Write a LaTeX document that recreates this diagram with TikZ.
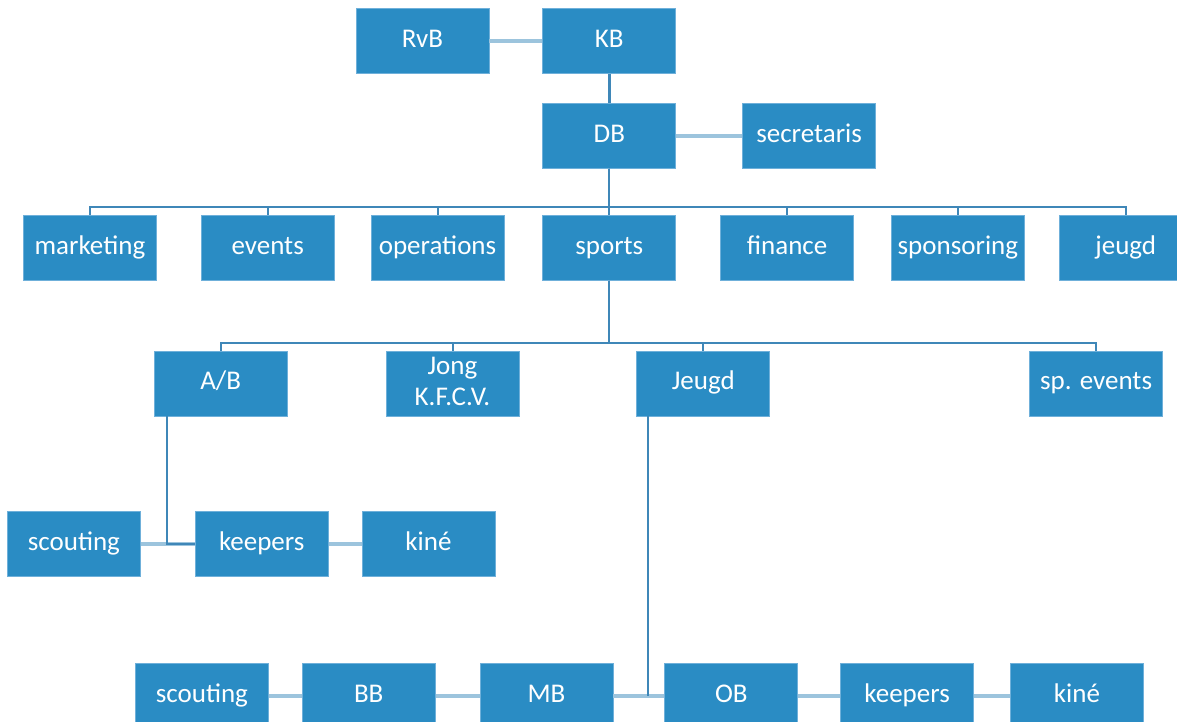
\documentclass[tikz,border=0pt]{standalone}
\usepackage{fontspec}
\setmainfont{Carlito}
\usepackage{xcolor}
\usepackage{tikz}
\usetikzlibrary{positioning}

\definecolor{boxblue}{HTML}{2A8CC4}
\definecolor{boxedge}{HTML}{6FB0DA}
\definecolor{treeblue}{HTML}{3F87B8}
\definecolor{linkblue}{HTML}{9CC4DD}

\begin{document}
\begin{tikzpicture}[node distance=40pt]
    \tikzstyle{box} = [draw=boxedge, line width=0.8pt, rectangle, fill=boxblue, text=white, minimum width=133pt, minimum height=65pt, inner sep=0pt, align=center, text height=19pt, text depth=6pt, font=\fontsize{27}{31}\selectfont]
    \tikzstyle{tree} = [draw=treeblue, line width=2pt]
    \tikzstyle{link} = [draw=linkblue, line width=3.5pt]

    \useasboundingbox (0,0) rectangle (1177pt,-722pt);

    % top
    \node [box] (rvb) at (422.5pt,-41pt) {RvB};
    \node [box, right=53pt of rvb] (kb) {KB};
    \node [box, below=29pt of kb] (db) {DB};
    \node [box, right=66pt of db] (secr) {secretaris};

    % departments
    \node [box, below=46pt of db] (sports) {sports};
    \node [box, left=38pt of sports] (operations) {operations};
    \node [box, left=36pt of operations] (events) {events};
    \node [box, left=44pt of events] (marketing) {marketing};
    \node [box, right=44pt of sports] (finance) {finance};
    \node [box, right=37pt of finance] (sponsoring) {sponsoring};
    \node [box, right=34pt of sponsoring] (jeugd) {jeugd};

    % sports
    \node [box, below=70pt of sports, xshift=94pt] (jeugdsp) {Jeugd};
    \node [box, left=117pt of jeugdsp, text height=50pt] (jong) {Jong\\K.F.C.V.};
    \node [box, left=98pt of jong] (ab) {A/B};
    \node [box, right=259pt of jeugdsp] (spevents) {sp. events};

    % A/B staff
    \node [box, below=95pt of ab, xshift=41pt] (abkeepers) {keepers};
    \node [box, left=54pt of abkeepers] (abscouting) {scouting};
    \node [box, right=33pt of abkeepers] (abkine) {kiné};

    % Jeugd staff
    \node [box, below=247pt of jeugdsp, xshift=28pt] (ob) {OB};
    \node [box, left=51pt of ob] (mb) {MB};
    \node [box, left=44pt of mb] (bb) {BB};
    \node [box, left=33pt of bb] (jscouting) {scouting};
    \node [box, right=42pt of ob] (jkeepers) {keepers};
    \node [box, right=36pt of jkeepers] (jkine) {kiné};

    \draw [link] (rvb) -- (kb);
    \draw [tree, line width=3pt] (kb) -- (db);
    \draw [link] (db) -- (secr);
    \foreach \dep in {marketing,events,operations,sports,finance,sponsoring,jeugd}
        \draw [tree] (db.south) -- ++(0,-38pt) -| (\dep.north);
    \foreach \team in {ab,jong,jeugdsp,spevents}
        \draw [tree] (sports.south) -- ++(0,-62pt) -| (\team.north);

    \draw [link] (abscouting) -- (abkeepers);
    \draw [link] (abkeepers) -- (abkine);
    \draw [tree] ([xshift=13pt]ab.south west) |- (abkeepers.west);

    \draw [link] (jscouting) -- (bb);
    \draw [link] (bb) -- (mb);
    \draw [link] (mb) -- (ob);
    \draw [link] (ob) -- (jkeepers);
    \draw [link] (jkeepers) -- (jkine);
    \draw [tree] ([xshift=12pt]jeugdsp.south west) -- ([xshift=12pt]jeugdsp.south west |- ob.west);
\end{tikzpicture}
\end{document}
